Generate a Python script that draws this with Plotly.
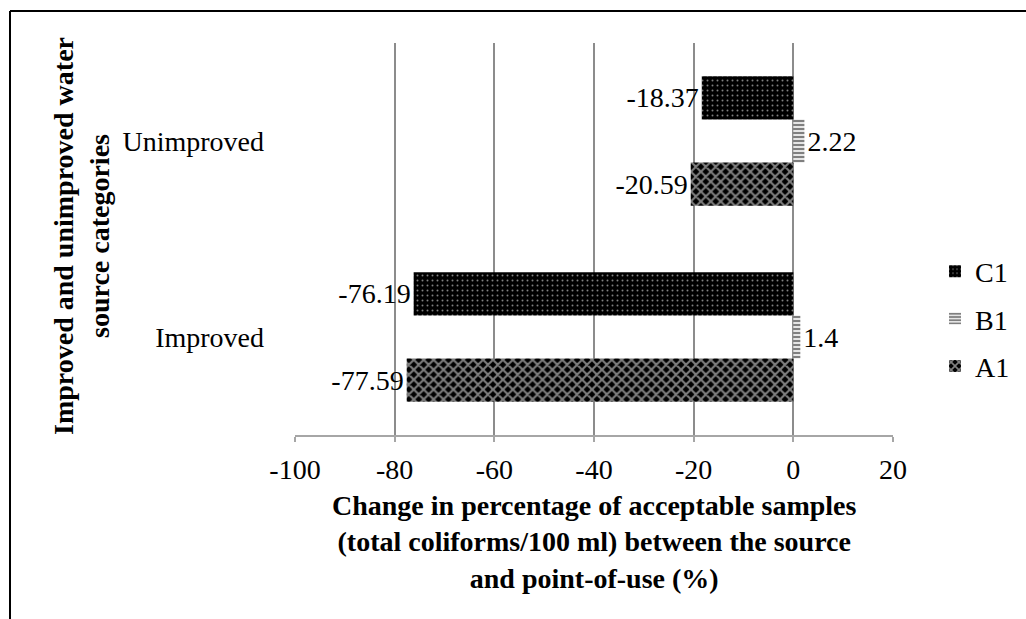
import plotly.graph_objects as go

categories = ["Improved", "Unimproved"]
series_names = ["A1", "B1", "C1"]
a1_values = [-77.59, -20.59]
b1_values = [1.4, 2.22]
c1_values = [-76.19, -18.37]
x_ticks = [-100, -80, -60, -40, -20, 0, 20]

FONT = "Liberation Serif"
W, H = 1026, 619
L, R, T, B = 295, 133, 43, 184
PW, PH = W - L - R, H - T - B


def px_x(px):
    return (px - L) / PW


def px_y(py):
    return (H - B - py) / PH


styles = {
    "A1": dict(rank=3, pattern=dict(shape="x", fgcolor="white", bgcolor="black", size=7, solidity=0.5)),
    "B1": dict(rank=2, pattern=dict(shape="-", fgcolor="black", bgcolor="white", size=4, solidity=0.6)),
    "C1": dict(rank=1, pattern=dict(shape=".", fgcolor="white", bgcolor="black", size=5, solidity=0.12)),
}

fig = go.Figure()
for name, vals in zip(series_names, [a1_values, b1_values, c1_values]):
    st = styles[name]
    fig.add_trace(go.Bar(
        name=name,
        y=categories,
        x=vals,
        orientation="h",
        legendgroup=name,
        legendrank=st["rank"],
        text=[str(v) for v in vals],
        textposition="outside",
        textfont=dict(family=FONT, size=28, color="black"),
        cliponaxis=False,
        marker=dict(color="black", pattern=st["pattern"], line=dict(width=0)),
    ))

fig.update_layout(
    width=W, height=H,
    margin=dict(l=L, r=R, t=T, b=B, autoexpand=False),
    paper_bgcolor="white", plot_bgcolor="white",
    barmode="group", bargap=0.34, bargroupgap=0,
    font=dict(family=FONT, size=28, color="black"),
    legend=dict(
        x=px_x(935), y=px_y(319), xanchor="left", yanchor="middle",
        traceorder="grouped", tracegroupgap=8,
        font=dict(family=FONT, size=28, color="black"),
        itemwidth=30, bgcolor="rgba(0,0,0,0)",
    ),
    xaxis=dict(
        range=[-100, 20], tickvals=x_ticks, ticktext=[str(v) for v in x_ticks],
        showgrid=True, gridcolor="#8c8c8c", gridwidth=2,
        zeroline=False,
        showline=True, linecolor="#a6a6a6", linewidth=2,
        ticks="outside", ticklen=5, tickcolor="#a6a6a6", tickwidth=2,
        ticklabelstandoff=3,
        tickfont=dict(family=FONT, size=28, color="black"),
    ),
    yaxis=dict(
        showgrid=False, zeroline=False, showline=False, ticks="",
        ticklabelstandoff=30,
        tickfont=dict(family=FONT, size=28, color="black"),
    ),
    annotations=[
        dict(
            text="Change in percentage of acceptable samples<br>(total coliforms/100 ml) between the source<br>and point-of-use (%)",
            xref="paper", yref="paper", x=0.5, y=px_y(542),
            xanchor="center", yanchor="middle", showarrow=False,
            font=dict(family=FONT, size=28, color="black", weight=700),
        ),
        dict(
            text="Improved and unimproved water<br>source categories",
            xref="paper", yref="paper", x=px_x(81), y=px_y(236),
            xanchor="center", yanchor="middle", showarrow=False, textangle=-90,
            font=dict(family=FONT, size=28, color="black", weight=700),
        ),
    ],
    shapes=[
        dict(type="line", xref="paper", yref="paper", x0=px_x(10), x1=px_x(1040),
             y0=px_y(11), y1=px_y(11), line=dict(color="black", width=2)),
        dict(type="line", xref="paper", yref="paper", x0=px_x(10), x1=px_x(10),
             y0=px_y(11), y1=px_y(630), line=dict(color="black", width=2)),
    ],
)

fig.write_html("out.html")
